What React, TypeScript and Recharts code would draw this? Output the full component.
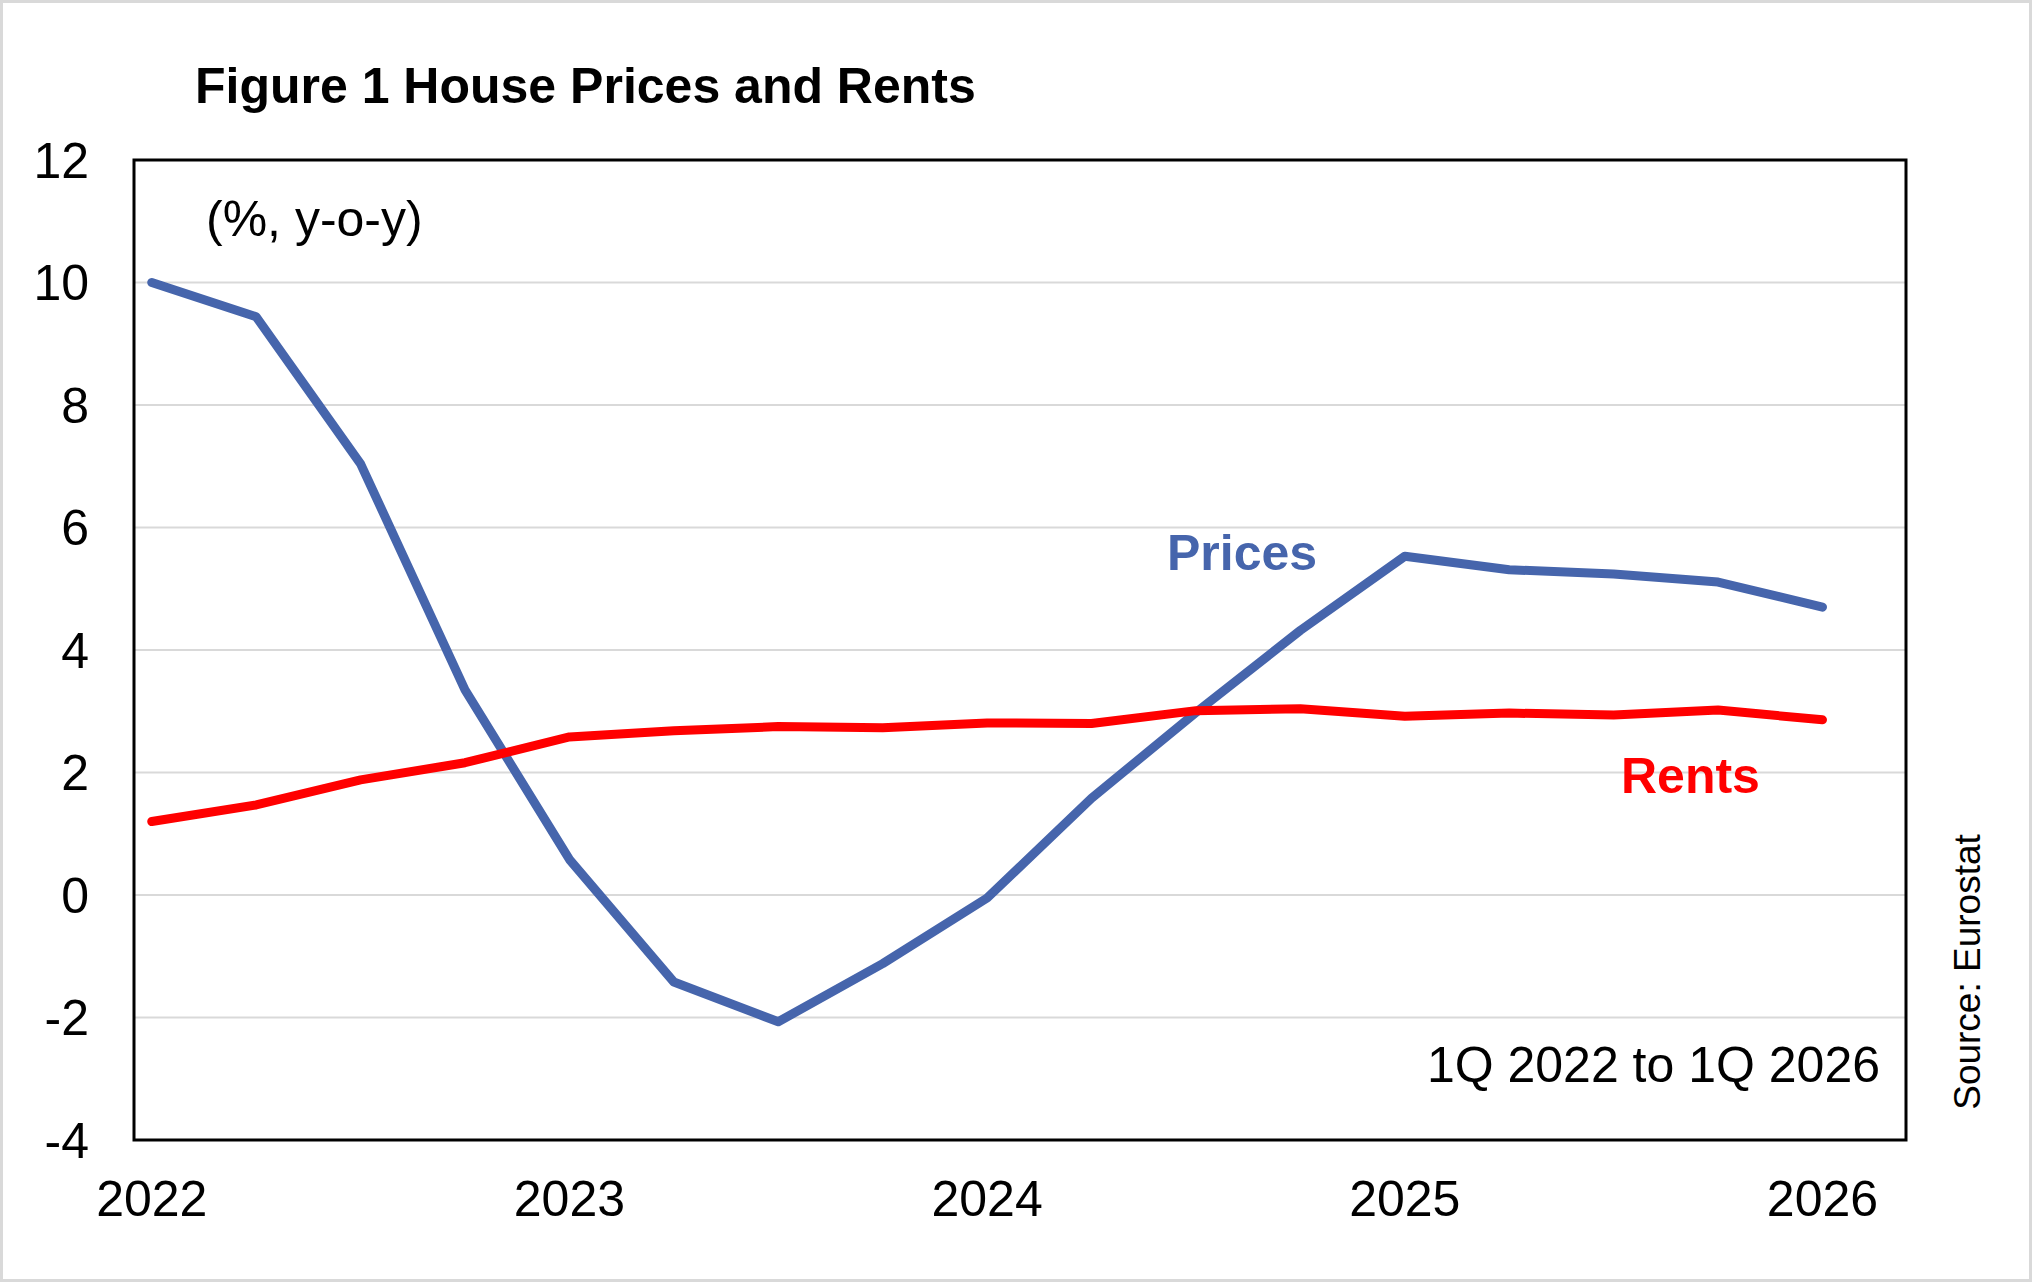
import { LineChart, Line, XAxis, YAxis, CartesianGrid, ReferenceArea } from "recharts";

// quarterly, 1Q 2022 .. 1Q 2026
const quarters = [
  "1Q22", "2Q22", "3Q22", "4Q22",
  "1Q23", "2Q23", "3Q23", "4Q23",
  "1Q24", "2Q24", "3Q24", "4Q24",
  "1Q25", "2Q25", "3Q25", "4Q25",
  "1Q26",
];
const prices = [10.0, 9.44, 7.04, 3.35, 0.58, -1.42, -2.07, -1.12, -0.05, 1.58, 2.98, 4.32, 5.53, 5.31, 5.24, 5.11, 4.7];
const rents = [1.2, 1.47, 1.88, 2.16, 2.58, 2.68, 2.75, 2.73, 2.81, 2.8, 3.01, 3.04, 2.92, 2.97, 2.94, 3.02, 2.86];
const yearLabels = ["2022", "2023", "2024", "2025", "2026"];
const yearTicks = [0, 4, 8, 12, 16];
const yTicks = [-4, -2, 0, 2, 4, 6, 8, 10, 12];

const W = 2032;
const H = 1282;
const FONT = "'Liberation Sans', Arial, Helvetica, sans-serif";
const BLUE = "#4665AC";
const RED = "#FF0000";
const X_DOMAIN: [number, number] = [-0.17, 16.8];

const data = quarters.map((q, i) => ({ t: i, q, prices: prices[i], rents: rents[i] }));

export default function App() {
  return (
    <div style={{ position: "absolute", left: 0, top: 0, width: W, height: H, background: "#fff" }}>
      <LineChart
        width={W}
        height={H}
        data={data}
        margin={{ top: 160, right: 126, bottom: 62, left: 34 }}
        style={{ position: "absolute", left: 0, top: 0 }}
      >
        <CartesianGrid vertical={false} stroke="#D9D9D9" strokeWidth={2} />
        <XAxis
          dataKey="t"
          type="number"
          domain={X_DOMAIN}
          allowDataOverflow
          ticks={yearTicks}
          tickFormatter={(v: number) => yearLabels[yearTicks.indexOf(v)] ?? ""}
          height={80}
          axisLine={false}
          tickLine={false}
          tickSize={0}
          tickMargin={40}
          tick={{ fontSize: 50, fill: "#000", fontFamily: FONT }}
        />
        <YAxis
          domain={[-4, 12]}
          ticks={yTicks}
          width={100}
          axisLine={false}
          tickLine={false}
          tickSize={0}
          tickMargin={45}
          tick={{ fontSize: 50, fill: "#000", fontFamily: FONT }}
        />
        <ReferenceArea
          x1={X_DOMAIN[0]}
          x2={X_DOMAIN[1]}
          y1={-4}
          y2={12}
          fill="none"
          fillOpacity={0}
          stroke="#000"
          strokeWidth={3}
          ifOverflow="visible"
        />
        <Line
          dataKey="prices"
          stroke={BLUE}
          strokeWidth={9}
          strokeLinecap="round"
          strokeLinejoin="round"
          dot={false}
          activeDot={false}
          isAnimationActive={false}
        />
        <Line
          dataKey="rents"
          stroke={RED}
          strokeWidth={9}
          strokeLinecap="round"
          strokeLinejoin="round"
          dot={false}
          activeDot={false}
          isAnimationActive={false}
        />
      </LineChart>

      <svg
        width={W}
        height={H}
        style={{ position: "absolute", left: 0, top: 0, pointerEvents: "none" }}
        fontFamily={FONT}
      >
        <text x={195} y={103} fontSize={50} fontWeight="bold" fill="#000">
          Figure 1 House Prices and Rents
        </text>
        <text x={206} y={236} fontSize={50} fill="#000">
          (%, y-o-y)
        </text>
        <text x={1167} y={570} fontSize={50} fontWeight="bold" fill={BLUE}>
          Prices
        </text>
        <text x={1621} y={793} fontSize={50} fontWeight="bold" fill={RED}>
          Rents
        </text>
        <text x={1880} y={1082} fontSize={50} fill="#000" textAnchor="end">
          1Q 2022 to 1Q 2026
        </text>
        <text transform="translate(1980, 972) rotate(-90)" fontSize={37} fill="#000" textAnchor="middle">
          Source: Eurostat
        </text>
        <rect x={1.5} y={1.5} width={W - 3} height={H - 3} fill="none" stroke="#D9D9D9" strokeWidth={3} />
      </svg>
    </div>
  );
}
